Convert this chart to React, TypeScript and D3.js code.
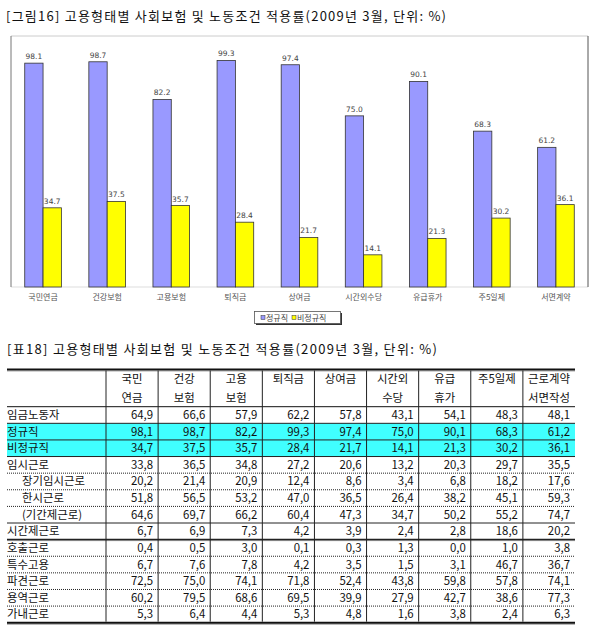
import * as d3 from "d3";
import { useEffect, useRef } from "react";

// 그림16 data
const categories = ["국민연금", "건강보험", "고용보험", "퇴직금", "상여금", "시간외수당", "유급휴가", "주5일제", "서면계약"];
const seriesNames = ["정규직", "비정규직"];
const regular = [98.1, 98.7, 82.2, 99.3, 97.4, 75.0, 90.1, 68.3, 61.2];
const nonRegular = [34.7, 37.5, 35.7, 28.4, 21.7, 14.1, 21.3, 30.2, 36.1];

// 표18 data
const headerTop = ["국민", "건강", "고용", "퇴직금", "상여금", "시간외", "유급", "주5일제", "근로계약"];
const headerBottom = ["연금", "보험", "보험", "", "", "수당", "휴가", "", "서면작성"];
const rowLabels = ["임금노동자", "정규직", "비정규직", "임시근로", "장기임시근로", "한시근로", "(기간제근로)", "시간제근로", "호출근로", "특수고용", "파견근로", "용역근로", "가내근로"];
const indented = ["장기임시근로", "한시근로", "(기간제근로)"];
const highlighted = ["정규직", "비정규직"];
const rowWage = [64.9, 66.6, 57.9, 62.2, 57.8, 43.1, 54.1, 48.3, 48.1];
const rowRegular = [98.1, 98.7, 82.2, 99.3, 97.4, 75.0, 90.1, 68.3, 61.2];
const rowNonRegular = [34.7, 37.5, 35.7, 28.4, 21.7, 14.1, 21.3, 30.2, 36.1];
const rowTemp = [33.8, 36.5, 34.8, 27.2, 20.6, 13.2, 20.3, 29.7, 35.5];
const rowLongTemp = [20.2, 21.4, 20.9, 12.4, 8.6, 3.4, 6.8, 18.2, 17.6];
const rowLimited = [51.8, 56.5, 53.2, 47.0, 36.5, 26.4, 38.2, 45.1, 59.3];
const rowFixedTerm = [64.6, 69.7, 66.2, 60.4, 47.3, 34.7, 50.2, 55.2, 74.7];
const rowPartTime = [6.7, 6.9, 7.3, 4.2, 3.9, 2.4, 2.8, 18.6, 20.2];
const rowOnCall = [0.4, 0.5, 3.0, 0.1, 0.3, 1.3, 0.0, 1.0, 3.8];
const rowSpecial = [6.7, 7.6, 7.8, 4.2, 3.5, 1.5, 3.1, 46.7, 36.7];
const rowDispatch = [72.5, 75.0, 74.1, 71.8, 52.4, 43.8, 59.8, 57.8, 74.1];
const rowService = [60.2, 79.5, 68.6, 69.5, 39.9, 27.9, 42.7, 38.6, 77.3];
const rowHome = [5.3, 6.4, 4.4, 5.3, 4.8, 1.6, 3.8, 2.4, 6.3];
// line under each row: s = solid, d = dotted, t = thick, b = bottom rule
const rowLines = ["s", "s", "s", "d", "d", "d", "s", "t", "d", "d", "d", "d", "b"];

const font = "'Noto Sans CJK KR', 'Noto Sans', sans-serif";
const colors = ["#9999ff", "#ffff00"];

function drawChart(svg: d3.Selection<SVGSVGElement, unknown, null, undefined>) {
  svg.selectAll("*").remove();

  // title
  svg.append("text")
    .attr("x", 6).attr("y", 21)
    .attr("textLength", 440).attr("lengthAdjust", "spacing")
    .style("font-family", font).style("font-size", "13px").attr("fill", "#111")
    .text("[그림16] 고용형태별 사회보험 및 노동조건 적용률(2009년 3월, 단위: %)");

  // plot area
  const left = 11, right = 588, top = 36, bottom = 287;
  svg.append("line").attr("x1", left).attr("x2", right).attr("y1", top).attr("y2", top).attr("stroke", "#cccccc");
  svg.append("line").attr("x1", left).attr("x2", right).attr("y1", bottom).attr("y2", bottom).attr("stroke", "#dddddd");
  svg.append("line").attr("x1", left).attr("x2", left).attr("y1", top).attr("y2", bottom).attr("stroke", "#777");
  svg.append("line").attr("x1", right).attr("x2", right).attr("y1", top).attr("y2", bottom).attr("stroke", "#555");

  const x0 = d3.scaleBand().domain(categories).range([left, right]).padding(0);
  const x1 = d3.scaleBand().domain(seriesNames).range([0, x0.bandwidth()]).paddingInner(0).paddingOuter(0.75);
  const y = d3.scaleLinear().domain([0, 110]).range([bottom, top]);

  const values = [regular, nonRegular];
  const bars = svg.append("g");
  seriesNames.forEach((s, si) => {
    const g = bars.append("g");
    g.selectAll("rect")
      .data(categories)
      .enter()
      .append("rect")
      .attr("x", (c) => (x0(c) as number) + (x1(s) as number))
      .attr("y", (c, i) => y(values[si][i]))
      .attr("width", x1.bandwidth())
      .attr("height", (c, i) => bottom - y(values[si][i]))
      .attr("fill", colors[si])
      .attr("stroke", "#333")
      .attr("stroke-width", 0.8);
    g.selectAll("text")
      .data(categories)
      .enter()
      .append("text")
      .attr("x", (c) => (x0(c) as number) + (x1(s) as number) + x1.bandwidth() / 2)
      .attr("y", (c, i) => y(values[si][i]) - 4)
      .attr("text-anchor", "middle")
      .style("font-family", "'DejaVu Sans', sans-serif").style("font-size", "7.5px")
      .attr("fill", "#444")
      .text((c, i) => values[si][i].toFixed(1));
  });

  // x labels
  svg.append("g").selectAll("text")
    .data(categories)
    .enter()
    .append("text")
    .attr("x", (c) => (x0(c) as number) + x0.bandwidth() / 2)
    .attr("y", 300)
    .attr("text-anchor", "middle")
    .style("font-family", font).style("font-size", "8px")
    .attr("fill", "#555")
    .text((c) => c);

  // legend
  const lg = svg.append("g");
  lg.append("rect").attr("x", 256).attr("y", 313).attr("width", 86).attr("height", 12).attr("fill", "#333");
  lg.append("rect").attr("x", 254.5).attr("y", 311.5).attr("width", 86).attr("height", 12).attr("fill", "#fff").attr("stroke", "#555").attr("stroke-width", 0.8);
  const legendX = [261, 292];
  seriesNames.forEach((s, si) => {
    lg.append("rect").attr("x", legendX[si]).attr("y", 315.5).attr("width", 4).attr("height", 4)
      .attr("fill", colors[si]).attr("stroke", "#333").attr("stroke-width", 0.5);
    lg.append("text").attr("x", legendX[si] + 5).attr("y", 320.5)
      .style("font-family", font).style("font-size", "8px").attr("fill", "#444").text(s);
  });

  // table title
  svg.append("text")
    .attr("x", 7).attr("y", 354)
    .attr("textLength", 430).attr("lengthAdjust", "spacing")
    .style("font-family", font).style("font-size", "13px").attr("fill", "#111")
    .text("[표18] 고용형태별 사회보험 및 노동조건 적용률(2009년 3월, 단위: %)");

  const tLeft = 7, tRight = 575, tTop = 369.5, headBottom = 406.7, tBottom = 622.7;
  const colIdx = d3.range(headerTop.length).map(String);
  const xc = d3.scaleBand().domain(colIdx).range([106, tRight]).padding(0);
  const yr = d3.scaleBand().domain(rowLabels).range([headBottom, tBottom]).padding(0);
  const tableRows = [rowWage, rowRegular, rowNonRegular, rowTemp, rowLongTemp, rowLimited, rowFixedTerm, rowPartTime, rowOnCall, rowSpecial, rowDispatch, rowService, rowHome];

  const tg = svg.append("g");
  // highlighted rows
  tg.selectAll("rect.hl")
    .data(highlighted)
    .enter()
    .append("rect")
    .attr("x", tLeft).attr("y", (r) => yr(r) as number)
    .attr("width", tRight - tLeft).attr("height", yr.bandwidth())
    .attr("fill", "#40ffff");

  // horizontal rules
  tg.append("line").attr("x1", tLeft).attr("x2", tRight).attr("y1", tTop + 1.5).attr("y2", tTop + 1.5).attr("stroke", "#aaa").attr("stroke-width", 1);
  tg.append("line").attr("x1", tLeft).attr("x2", tRight).attr("y1", tTop).attr("y2", tTop).attr("stroke", "#111").attr("stroke-width", 2);
  tg.append("line").attr("x1", tLeft).attr("x2", tRight).attr("y1", headBottom).attr("y2", headBottom).attr("stroke", "#111").attr("stroke-width", 1);
  rowLabels.forEach((r, i) => {
    const ly = (yr(r) as number) + yr.bandwidth();
    const kind = rowLines[i];
    if (kind === "b") {
      tg.append("line").attr("x1", tLeft).attr("x2", tRight).attr("y1", ly + 1.5).attr("y2", ly + 1.5).attr("stroke", "#999").attr("stroke-width", 1);
      tg.append("line").attr("x1", tLeft).attr("x2", tRight).attr("y1", ly).attr("y2", ly).attr("stroke", "#111").attr("stroke-width", 2);
    } else if (kind === "t") {
      tg.append("line").attr("x1", tLeft).attr("x2", tRight).attr("y1", ly + 1).attr("y2", ly + 1).attr("stroke", "#999").attr("stroke-width", 1);
      tg.append("line").attr("x1", tLeft).attr("x2", tRight).attr("y1", ly).attr("y2", ly).attr("stroke", "#222").attr("stroke-width", 1.5);
    } else {
      tg.append("line").attr("x1", tLeft).attr("x2", tRight).attr("y1", ly).attr("y2", ly)
        .attr("stroke", "#222").attr("stroke-width", 1)
        .attr("stroke-dasharray", kind === "d" ? "1,1" : null);
    }
  });

  // column rules
  tg.selectAll("line.v")
    .data(colIdx)
    .enter()
    .append("line")
    .attr("x1", (c) => xc(c) as number).attr("x2", (c) => xc(c) as number)
    .attr("y1", tTop + 1).attr("y2", tBottom - 1)
    .attr("stroke", "#222").attr("stroke-width", 1);

  const textStyle = (sel: any) =>
    sel.style("font-family", font).style("font-size", "11.4px").attr("fill", "#111");

  // header text
  colIdx.forEach((c, i) => {
    const cx = (xc(c) as number) + xc.bandwidth() / 2;
    textStyle(tg.append("text").attr("x", cx).attr("y", 382.5).attr("text-anchor", "middle").text(headerTop[i]));
    if (headerBottom[i])
      textStyle(tg.append("text").attr("x", cx).attr("y", 401.5).attr("text-anchor", "middle").text(headerBottom[i]));
  });

  // body text
  rowLabels.forEach((r, ri) => {
    const ty = (yr(r) as number) + yr.bandwidth() / 2 + 4;
    textStyle(tg.append("text").attr("x", indented.includes(r) ? 22 : 7).attr("y", ty).text(r));
    tableRows[ri].forEach((v, ci) => {
      textStyle(
        tg.append("text")
          .attr("x", (xc(String(ci)) as number) + xc.bandwidth() - 5)
          .attr("y", ty)
          .attr("text-anchor", "end")
          .text(v.toFixed(1).replace(".", ","))
      );
    });
  });
}

export default function App() {
  const ref = useRef<SVGSVGElement>(null);
  useEffect(() => {
    if (ref.current) drawChart(d3.select(ref.current));
  }, []);
  return (
    <div style={{ position: "absolute", left: 0, top: 0 }}>
      <svg ref={ref} width={598} height={638} style={{ display: "block", background: "#fff" }}></svg>
    </div>
  );
}
